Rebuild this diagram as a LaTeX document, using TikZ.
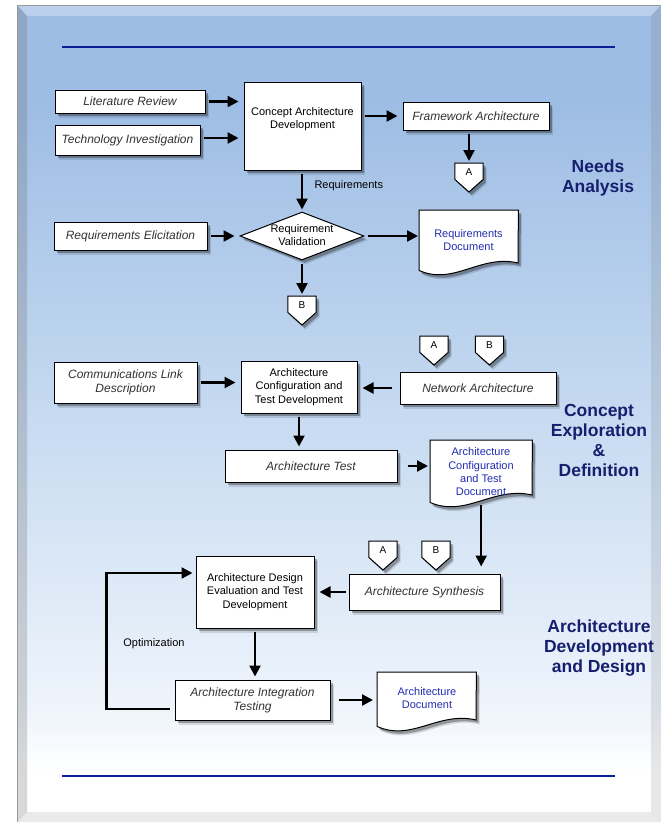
\documentclass[tikz,border=0pt]{standalone}
\usepackage{fontspec}
\setmainfont{Liberation Sans}
\usetikzlibrary{arrows.meta,shapes.geometric,shadows,calc}
\definecolor{topblue}{RGB}{158,189,228}
\definecolor{midblue}{RGB}{198,218,241}
\definecolor{lowblue}{RGB}{238,244,251}
\definecolor{navy}{RGB}{22,30,110}
\definecolor{rulecol}{RGB}{10,30,150}
\definecolor{doctext}{RGB}{35,45,175}
\definecolor{itgray}{RGB}{50,50,50}
\pgfdeclareverticalshading{pagebg}{100bp}{color(0bp)=(white); color(25bp)=(white); color(28bp)=(white); color(32bp)=(lowblue); color(50bp)=(midblue); color(69bp)=(topblue); color(100bp)=(topblue)}
\tikzset{
  softshadow/.style={
    general shadow={shadow xshift=3.5pt, shadow yshift=-4.5pt, fill=black, opacity=0.12},
    general shadow={shadow xshift=2.5pt, shadow yshift=-3pt, fill=black, opacity=0.3}},
  wbox/.style={draw=black, line width=1pt, fill=white, softshadow, align=center, inner sep=1pt},
  ibox/.style={wbox, font=\fontsize{12}{14}\selectfont\itshape, text=itgray},
  ubox/.style={wbox, font=\fontsize{11}{13.7}\selectfont},
  utext/.style={font=\fontsize{11}{13.3}\selectfont, align=center},
  sechead/.style={font=\fontsize{17.5}{20}\selectfont\bfseries, text=navy, align=center},
  lbl/.style={font=\fontsize{11}{13}\selectfont},
  doctxt/.style={font=\fontsize{11}{13.3}\selectfont, text=doctext, align=center},
  docbox/.style={rectangle, draw=none, inner sep=0pt},
  pentbox/.style={rectangle, draw=none, inner sep=0pt, minimum width=28pt, minimum height=16pt},
  arr/.style={line width=2.3pt, -{Triangle[length=11pt,width=11pt]}, shorten <=3pt, shorten >=5pt},
}
% name, xleft, ytop, width, hleft, hright, textx, texty, text
\newcommand\docnode[9]{%
  \node[docbox, minimum width=#4pt, minimum height=#5pt, anchor=north west] (#1) at (#2,#3) {};
  \fill[white, draw=black, line width=1pt, softshadow] (#1.north west) -- (#1.north east) -- ({#2+#4},{#3+#6})
     .. controls ({#2+0.62*#4},{#3+#6-9}) and ({#2+0.35*#4},{#3+#5+16}) .. (#1.south west) -- cycle;
  \node[doctxt] (#1-t) at (#7,#8) {#9};
}
% name, xcenter, ytop, label
\newcommand\offpage[4]{%
  \node[pentbox, anchor=north] (#1) at (#2,#3) {};
  \fill[white, draw=black, line width=1pt, softshadow] (#1.north west) -- (#1.north east) -- (#1.south east) -- ({#2},{#3+29}) -- (#1.south west) -- cycle;
  \node[font=\fontsize{10}{12}\selectfont] (#1-t) at ({#2},{#3+9}) {#4};
}
\begin{document}
\begin{tikzpicture}[x=1pt,y=-1pt]
\useasboundingbox (0,0) rectangle (661,825);
% ---------- page frame ----------
\fill[white] (0,0) rectangle (661,825);
\shade[shading=pagebg] (17,5) rectangle (661,822);
\fill[white, opacity=0.3] (17,5) -- (661,5) -- (651,16) -- (27,16) -- cycle;
\fill[black!60, opacity=0.25] (17,5) -- (27,16) -- (27,812) -- (17,822) -- cycle;
\fill[black!60, opacity=0.15] (661,5) -- (661,822) -- (651,812) -- (651,16) -- cycle;
\fill[black!40, opacity=0.2] (17,822) -- (661,822) -- (651,812) -- (27,812) -- cycle;
\draw[black!40, line width=0.8pt] (17,822) -- (17,5) -- (661,5);
\draw[rulecol, line width=2.5pt] (62,47) -- (615,47);
\draw[rulecol, line width=2.5pt] (62,776) -- (615,776);

% ---------- Needs Analysis ----------
\node[ibox, minimum width=150pt, minimum height=23pt] (lit) at (130,101.5) {Literature Review};
\node[ibox, minimum width=145pt, minimum height=30pt] (tech) at (127.5,140) {Technology Investigation};
\node[wbox, minimum width=117pt, minimum height=88pt] (concept) at (302.5,126) {};
\node[utext] (concept-t) at (302.5,119) {Concept Architecture\\Development};
\node[ibox, minimum width=146pt, minimum height=28pt] (frame) at (476,116) {Framework Architecture};
\offpage{A1}{469}{163}{A}
\node[sechead] (needs) at (598,178) {Needs\\Analysis};
\node[diamond, aspect=2.6, draw=black, line width=1pt, fill=white, softshadow, minimum width=124pt, minimum height=48pt, inner sep=0pt] (val) at (302,236) {};
\node[utext] (val-t) at (302,235) {Requirement\\Validation};
\node[ibox, minimum width=153pt, minimum height=28pt] (relic) at (130.5,236) {Requirements Elicitation};
\docnode{reqdoc}{419}{210}{99}{60}{53}{468.5}{240}{Requirements\\Document}
\offpage{B1}{302}{296}{B}
\node[lbl, anchor=west] (reqlbl) at (311,186) {Requirements};

\draw[arr] (lit.east) -- (lit.east -| concept.west);
\draw[arr] ([yshift=2pt]tech.east) -- ([yshift=2pt]tech.east -| concept.west);
\draw[arr] (concept.east |- frame.west) -- (frame.west);
\draw[arr, shorten >=2pt] (A1.north |- frame.south) -- (A1.north);
\draw[arr, shorten >=2pt] (val.north |- concept.south) -- (val.north);
\draw[arr] (relic.east) -- (val.west);
\draw[arr, shorten >=1pt] (val.east) -- (val.east -| reqdoc.west);
\draw[arr, shorten >=2pt] (val.south) -- (B1.north);

% ---------- Concept Exploration & Definition ----------
\offpage{A2}{434}{336}{A}
\offpage{B2}{489.5}{336}{B}
\node[ibox, minimum width=143pt, minimum height=41pt] (comm) at (125.5,382.5) {Communications Link\\Description};
\node[ubox, minimum width=116pt, minimum height=52pt] (acd) at (299,387) {Architecture\\Configuration and\\Test Development};
\node[ibox, minimum width=156pt, minimum height=32pt] (net) at (478,388) {Network Architecture};
\node[ibox, minimum width=172pt, minimum height=32pt] (atest) at (311,466) {Architecture Test};
\docnode{acdoc}{430}{440}{102}{62}{55}{481}{472}{Architecture\\Configuration\\and Test\\Document}
\node[sechead] (concexp) at (599,440) {Concept\\Exploration\\\&\\Definition};

\draw[arr] (comm.east) -- (comm.east -| acd.west);
\draw[arr, shorten <=8pt] (net.west) -- (net.west -| acd.east);
\draw[arr, shorten >=3pt] (acd.south) -- (acd.south |- atest.north);
\draw[arr, shorten <=10pt, shorten >=2pt] (atest.east) -- (atest.east -| acdoc.west);

% ---------- Architecture Development and Design ----------
\offpage{A3}{383}{541}{A}
\offpage{B3}{436}{541}{B}
\node[ibox, minimum width=151pt, minimum height=36pt] (synth) at (424.5,592) {Architecture Synthesis};
\node[ubox, minimum width=118pt, minimum height=72pt] (ade) at (255,592) {Architecture Design\\Evaluation and Test\\Development};
\node[ibox, minimum width=155pt, minimum height=40pt] (ait) at (252.5,700) {Architecture Integration\\Testing};
\docnode{adoc}{377}{672}{99}{54}{48}{427}{698}{Architecture\\Document}
\node[lbl] (optlbl) at (154,644) {Optimization};
\node[sechead] (add) at (599,648) {Architecture\\Development\\and Design};

\draw[arr, shorten <=3pt, shorten >=7pt] (acdoc.south) -- (acdoc.south |- synth.north);
\draw[arr] (synth.west) -- (synth.west -| ade.east);
\draw[arr, shorten >=3pt] (ade.south) -- (ade.south |- ait.north);
\draw[arr, shorten <=8pt, shorten >=4pt] (ait.east) -- (ait.east -| adoc.west);
\draw[line width=2.3pt, -{Triangle[length=11pt,width=11pt]}, shorten <=5pt, shorten >=3pt]
  ([yshift=-9pt]ait.west) -- ++(-68,0) |- ([yshift=19pt]ade.west);
\end{tikzpicture}
\end{document}
